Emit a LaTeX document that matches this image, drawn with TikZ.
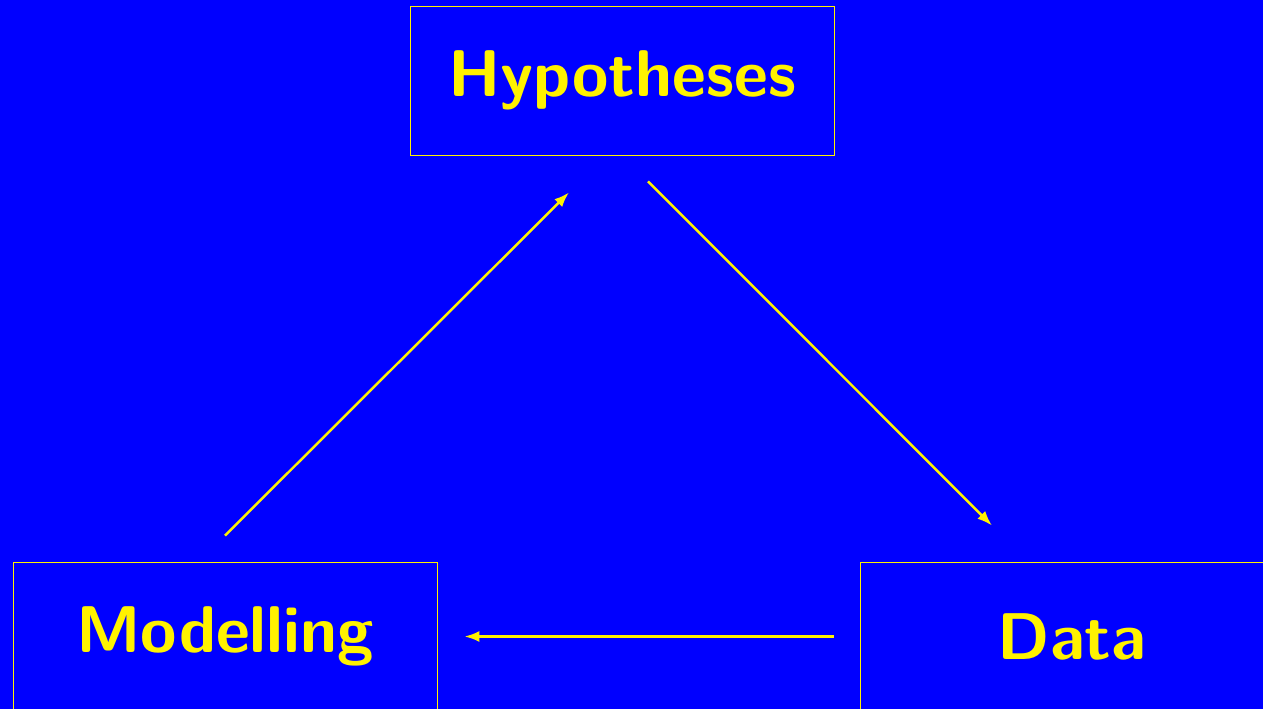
\documentclass[tikz,border=0pt]{standalone}
\usepackage{xcolor}
\usepackage{tikz}
\usetikzlibrary{arrows.meta, calc, positioning}

\begin{document}
\begin{tikzpicture}[x=0.02cm, y=-0.02cm, arrow/.style = {line width=1.4pt, yellow, -{Latex[length=0.3cm,width=0.22cm]}}]
				\tikzset{box/.style={draw=yellow, line width=0.5pt, rectangle, minimum width=8.48cm, minimum height=2.98cm, inner sep=0pt, text=yellow, font=\fontsize{37.6}{40}\selectfont\sffamily\bfseries}}

				% page
				\fill[blue] (0,0) rectangle (1263,709);
				\useasboundingbox (0,0) rectangle (1263,709);
				\clip (0,0) rectangle (1263,709);

				% boxes
				\node[box] (hyp) at (622,80.5) {Hypotheses};
				\node[box] (mod) at (225,636.5) {Modelling};
				\node[box] (dat) at (1072,636.5) {Data};

				\draw [arrow] ($(mod.north)+(0,-26)$) -- ($(hyp.south)+(-53,37)$);
				\draw [arrow] ($(hyp.south)+(26,26)$) -- ($(dat.north)+(-80,-36)$);
				\draw [arrow] ($(dat.west)+(-26,0)$) -- ($(mod.east)+(27,0)$);

			\end{tikzpicture}
\end{document}
